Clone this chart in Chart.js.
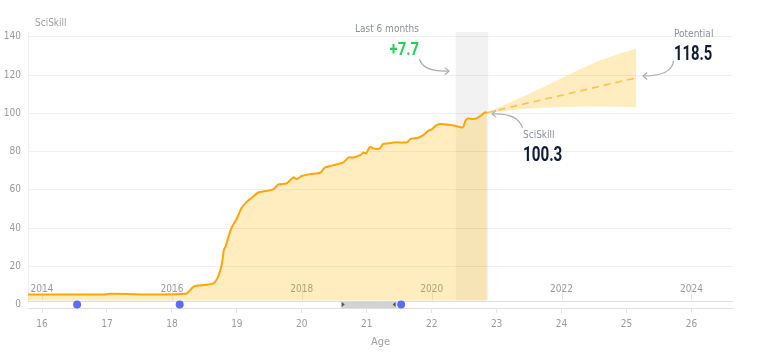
<!DOCTYPE html>
<html><head><meta charset="utf-8">
<script src="https://cdn.jsdelivr.net/npm/chart.js@4.4.0/dist/chart.umd.min.js"></script>
<style>html,body{margin:0;padding:0;background:#fff;overflow:hidden}</style>
</head><body>
<canvas id="c" width="779" height="359"></canvas>
<script>
// ---- data ----
const ages = [15.78,16.94,17.05,18.21,18.33,18.43,18.63,18.71,18.77,18.80,18.83,18.87,18.92,19.00,19.07,19.15,19.23,19.33,19.46,19.56,19.64,19.77,19.87,19.92,20.00,20.13,20.28,20.36,20.49,20.64,20.72,20.79,20.90,20.95,20.99,21.05,21.10,21.20,21.25,21.33,21.46,21.62,21.67,21.79,21.87,21.95,22.00,22.07,22.13,22.23,22.36,22.48,22.52,22.56,22.64,22.69,22.77,22.82,22.85];
const sciSkill = [5.3,5.3,5.6,5.6,9.3,10.0,10.9,14.5,21.5,28.5,30.6,35.4,40.3,45.0,50.3,53.7,55.8,58.6,59.5,60.2,62.8,63.4,66.5,65.6,67.2,68.2,68.9,71.7,72.9,74.3,76.9,76.9,78.1,79.5,79.0,82.5,81.6,81.6,83.9,84.3,84.8,84.8,86.5,87.2,88.6,90.9,91.6,93.7,94.4,94.2,93.5,92.6,96.1,97.3,97.0,97.3,99.1,100.5,100.3];
const projAges  = [22.85,23.40,23.90,24.40,24.90,25.15];
const projMid   = [100.3,104.7,108.6,112.6,116.6,118.5];
const projUpper = [100.3,108.6,116.6,124.9,131.3,133.9];
const projLower = [100.3,102.2,103.2,103.6,103.4,103.1];
const eventAges = [16.54,18.12,21.53];
const selectedRange = [20.60,21.46];
const lastSixMonths = [22.37,22.87];
const yTicks = [0,20,40,60,80,100,120,140];
const xTicks = [16,17,18,19,20,21,22,23,24,25,26];
const yearAges = [16,18,20,22,24,26];
const yearLabels = ['2014','2016','2018','2020','2022','2024'];
const currentValue = '100.3', potentialValue = '118.5', deltaValue = '+7.7';

const FONT = "'DejaVu Sans Condensed', Roboto, sans-serif";
const BIG = "Roboto, 'DejaVu Sans Condensed', sans-serif";
const pts = (xs, ys) => xs.map((x, i) => ({x, y: ys[i]}));

function condensed(ctx, text, x, y, align, sx) {
  ctx.save();
  const w = ctx.measureText(text).width * sx;
  const left = align === 'right' ? x - w : x;
  ctx.textAlign = 'left';
  ctx.translate(left, y); ctx.scale(sx, 1);
  ctx.fillText(text, 0, 0);
  ctx.restore();
}

function arrow(ctx, x0, y0, cx, cy, x1, y1) {
  ctx.save();
  ctx.strokeStyle = '#a9adb3'; ctx.lineWidth = 1.2;
  ctx.beginPath(); ctx.moveTo(x0, y0); ctx.quadraticCurveTo(cx, cy, x1, y1); ctx.stroke();
  const a = Math.atan2(y1 - cy, x1 - cx), L = 5.5;
  ctx.beginPath();
  ctx.moveTo(x1 - L * Math.cos(a - 0.7), y1 - L * Math.sin(a - 0.7));
  ctx.lineTo(x1, y1);
  ctx.lineTo(x1 - L * Math.cos(a + 0.7), y1 - L * Math.sin(a + 0.7));
  ctx.stroke();
  ctx.restore();
}

const deco = {
  id: 'deco',
  beforeDatasetsDraw(chart) {
    const {ctx, chartArea: ca, scales: {x, y}} = chart;
    const y0 = y.getPixelForValue(0);
    ctx.save();
    const bx0 = x.getPixelForValue(lastSixMonths[0]), bx1 = x.getPixelForValue(lastSixMonths[1]);
    ctx.fillStyle = 'rgba(0,0,0,0.05)';
    ctx.fillRect(bx0, ca.top, bx1 - bx0, y0 - 4 - ca.top);
    ctx.font = '10px ' + FONT; ctx.fillStyle = '#9a9a9a';
    ctx.textAlign = 'center'; ctx.textBaseline = 'alphabetic';
    yearAges.forEach((a, i) => {
      const px = x.getPixelForValue(a);
      ctx.strokeStyle = '#e8e8e8'; ctx.lineWidth = 1;
      ctx.beginPath(); ctx.moveTo(Math.round(px) + 0.5, y0 - 20); ctx.lineTo(Math.round(px) + 0.5, y0 - 4); ctx.stroke();
      ctx.fillText(yearLabels[i], px, y0 - 12.5);
    });
    ctx.restore();
  },
  afterDatasetDraw(chart, args) {
    if (args.index !== 1) return;
    const {ctx, chartArea: ca, scales: {x, y}} = chart;
    const y0 = y.getPixelForValue(0);
    const top = y0 - 4, bot = ca.bottom;
    ctx.save();
    ctx.fillStyle = '#ffffff';
    ctx.fillRect(ca.left, top, ca.right - ca.left, bot - top);
    ctx.strokeStyle = '#dedede'; ctx.lineWidth = 1;
    ctx.beginPath(); ctx.moveTo(ca.left, Math.round(top) + 0.5); ctx.lineTo(ca.right, Math.round(top) + 0.5); ctx.stroke();
    const r0 = x.getPixelForValue(selectedRange[0]), r1 = x.getPixelForValue(selectedRange[1]);
    ctx.fillStyle = '#d2d2d2';
    ctx.fillRect(r0, top + 1, r1 - r0, bot - top - 1);
    ctx.fillStyle = '#555';
    ctx.beginPath(); ctx.moveTo(r0 + 1, y0 - 2.5); ctx.lineTo(r0 + 4, y0); ctx.lineTo(r0 + 1, y0 + 2.5); ctx.fill();
    ctx.beginPath(); ctx.moveTo(r1 - 1, y0 - 2.5); ctx.lineTo(r1 - 4, y0); ctx.lineTo(r1 - 1, y0 + 2.5); ctx.fill();
    ctx.restore();
  },
  afterDraw(chart) {
    const {ctx} = chart;
    ctx.save();
    ctx.textBaseline = 'alphabetic';
    ctx.font = '10px ' + FONT; ctx.fillStyle = '#a0a0a0'; ctx.textAlign = 'left';
    ctx.fillText('SciSkill', 35, 26);
    ctx.textAlign = 'right'; ctx.fillStyle = '#8a909a';
    ctx.fillText('Last 6 months', 419, 31.5);
    ctx.font = 'bold 19px ' + BIG; ctx.fillStyle = '#1fd25c';
    condensed(ctx, deltaValue, 419, 55, 'right', 0.78);
    ctx.textAlign = 'left'; ctx.font = '10px ' + FONT; ctx.fillStyle = '#8a909a';
    ctx.fillText('Potential', 674, 37.3);
    ctx.font = 'bold 20px ' + BIG; ctx.fillStyle = '#101b36';
    condensed(ctx, potentialValue, 674, 60, 'left', 0.74);
    ctx.font = '10px ' + FONT; ctx.fillStyle = '#8a909a';
    ctx.fillText('SciSkill', 523, 138);
    ctx.font = 'bold 20px ' + BIG; ctx.fillStyle = '#101b36';
    condensed(ctx, currentValue, 523, 160.5, 'left', 0.76);
    ctx.restore();
    arrow(ctx, 419.5, 59, 423, 72, 449, 71);
    arrow(ctx, 673.5, 61, 672, 76, 643, 76);
    arrow(ctx, 522.5, 128, 518, 113, 492, 114);
  }
};

new Chart(document.getElementById('c'), {
  type: 'line',
  data: {
    datasets: [
      { label: 'events', data: eventAges.map(a => ({x: a, y: 0})), showLine: false,
        pointRadius: 4, pointBackgroundColor: '#5b6cf6', pointBorderWidth: 0, order: 0, clip: false },
      { label: 'SciSkill', data: pts(ages, sciSkill), borderColor: '#ffa50a', borderWidth: 2,
        backgroundColor: 'rgba(255,180,0,0.25)', fill: 'origin', pointRadius: 0, tension: 0.25, order: 1 },
      { label: 'Potential', data: pts(projAges, projMid), borderColor: '#ffc34d', borderWidth: 1.6,
        borderDash: [7, 5], fill: false, pointRadius: 0, tension: 0, order: 2 },
      { label: 'upper', data: pts(projAges, projUpper), borderWidth: 0, borderColor: 'rgba(0,0,0,0)',
        backgroundColor: 'rgba(255,180,0,0.25)', fill: '+1', pointRadius: 0, cubicInterpolationMode: 'monotone', order: 3 },
      { label: 'lower', data: pts(projAges, projLower), borderWidth: 0, borderColor: 'rgba(0,0,0,0)',
        fill: false, pointRadius: 0, cubicInterpolationMode: 'monotone', order: 4 }
    ]
  },
  options: {
    responsive: false, animation: false, events: [],
    layout: { padding: { top: 32, right: 46, bottom: 10, left: 0 } },
    plugins: { legend: { display: false }, tooltip: { enabled: false } },
    scales: {
      x: {
        type: 'linear', min: 15.784, max: 26.64,
        afterBuildTicks: s => { s.ticks = xTicks.map(v => ({value: v})); },
        afterFit: s => { s.height = 41; },
        grid: { drawOnChartArea: false, drawTicks: true, tickLength: 5, color: '#e4e4e4' },
        border: { color: '#e0e0e0' },
        ticks: { color: '#9a9a9a', font: { size: 10, family: FONT }, padding: 5, maxRotation: 0 },
        title: { display: true, text: 'Age', color: '#a0a0a0', font: { size: 11, family: FONT }, padding: { top: 4, bottom: 0 } }
      },
      y: {
        min: -1.8, max: 142.5,
        afterBuildTicks: s => { s.ticks = yTicks.map(v => ({value: v})); },
        afterFit: s => { s.width = 28; },
        grid: { color: '#efefef', drawTicks: false },
        border: { color: '#efefef' },
        ticks: { color: '#9a9a9a', font: { size: 10, family: FONT }, padding: 7 }
      }
    }
  },
  plugins: [deco]
});
</script>
</body></html>
